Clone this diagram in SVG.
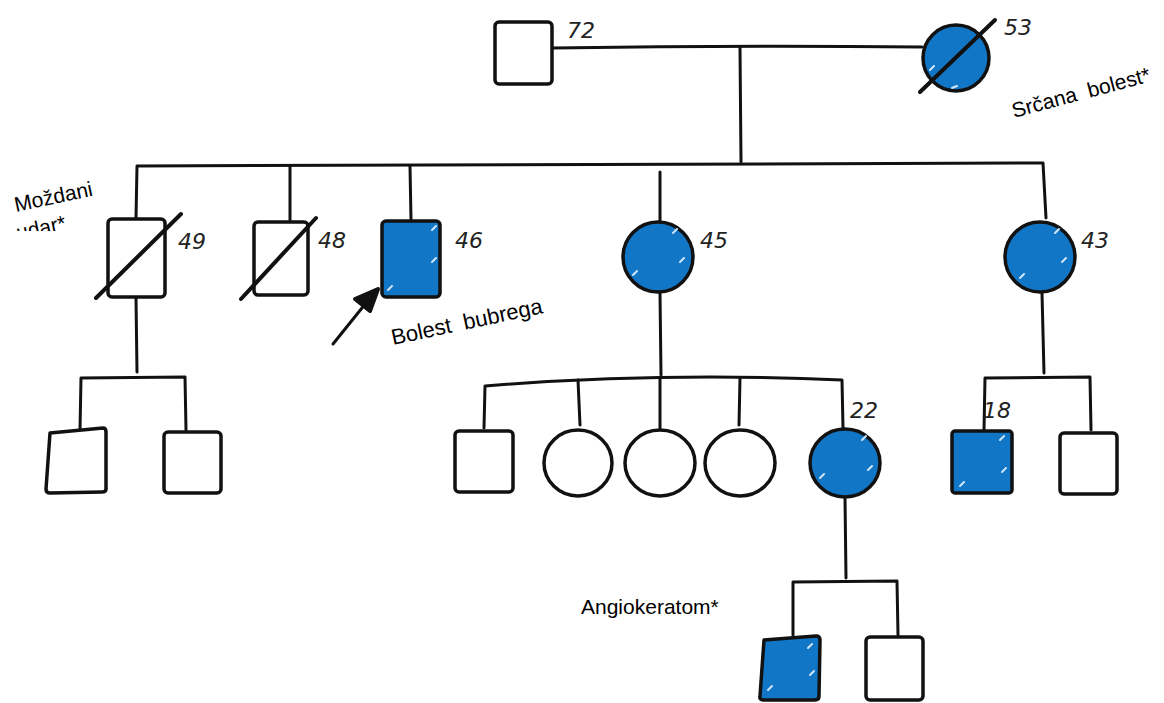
<svg xmlns="http://www.w3.org/2000/svg" width="1164" height="703" viewBox="0 0 1164 703">
<style>
.ln{fill:none;stroke:#111;stroke-width:3;stroke-linecap:round;stroke-linejoin:round}
.sh{fill:#fff;stroke:#111;stroke-width:3.5;stroke-linejoin:round}
.af{fill:#1276c6;stroke:#111;stroke-width:3.5;stroke-linejoin:round}
.dec{stroke:#111;stroke-width:4;stroke-linecap:round}
.age{font-family:"DejaVu Sans",sans-serif;font-style:italic;font-size:22px;fill:#222}
.lbl{font-family:"Liberation Sans",Arial,sans-serif;font-size:21px;fill:#000;white-space:pre}
.tick{stroke:#cfe6fa;stroke-width:2;stroke-linecap:round}
</style>
<defs>
<clipPath id="clipM"><rect x="0" y="150" width="200" height="81"/></clipPath>
</defs>
<g id="connectors">
<path class="ln" d="M553 48 Q740 45 922 47"/>
<path class="ln" d="M740 48 L741 162"/>
<path class="ln" d="M136 218 L137 166 L1043 163 L1046 218"/>
<path class="ln" d="M290 166 L290 220"/>
<path class="ln" d="M410 166 L411 220"/>
<path class="ln" d="M660 172 L660 222"/>
<path class="ln" d="M136 298 L137 372"/>
<path class="ln" d="M80 430 L81 378 L185 377 L186 430"/>
<path class="ln" d="M660 293 L661 375"/>
<path class="ln" d="M484 428 L485 386 Q660 372 842 380 L843 428"/>
<path class="ln" d="M578 380 L580 425"/>
<path class="ln" d="M660 378 L660 428"/>
<path class="ln" d="M740 378 L739 425"/>
<path class="ln" d="M1042 293 L1044 373"/>
<path class="ln" d="M984 430 L985 378 L1090 377 L1091 430"/>
<path class="ln" d="M845 497 L846 578"/>
<path class="ln" d="M793 635 L793 582 L897 581 L898 635"/>
<path d="M333 344 L366 303" class="ln" stroke-width="4.5"/>
<polygon points="378,289 355,299 370,311" fill="#111" stroke="#111" stroke-width="4" stroke-linejoin="round"/>
</g>
<g id="n72">
<rect class="sh" x="495" y="22" width="57" height="62" rx="4"/>
<text class="age" x="567" y="38">72</text>
</g>
<g id="n53">
<circle class="af" cx="956" cy="58" r="33"/>
<line class="tick" x1="930" y1="70" x2="934" y2="66"/><line class="tick" x1="975" y1="40" x2="979" y2="36"/><line class="tick" x1="952" y1="88" x2="957" y2="86"/>
<line class="dec" x1="920" y1="92" x2="995" y2="20"/>
<text class="age" x="1004" y="35">53</text>
<text class="lbl" transform="translate(1014 118) rotate(-15)">Srčana  bolest*</text>
</g>
<g id="n49">
<rect class="sh" x="108" y="219" width="57" height="78" rx="4"/>
<line class="dec" x1="96" y1="298" x2="181" y2="214"/>
<text class="age" x="178" y="249">49</text>
<g clip-path="url(#clipM)"><text class="lbl" transform="translate(16 212) rotate(-12)">Moždani</text><text class="lbl" transform="translate(18 240) rotate(-12)">udar*</text></g>
</g>
<g id="n48">
<rect class="sh" x="254" y="222" width="54" height="73" rx="4"/>
<line class="dec" x1="241" y1="299" x2="316" y2="218"/>
<text class="age" x="318" y="248">48</text>
</g>
<g id="n46">
<rect class="af" x="382" y="221" width="58" height="76" rx="4"/>
<line class="tick" x1="388" y1="290" x2="392" y2="286"/><line class="tick" x1="432" y1="230" x2="436" y2="226"/><line class="tick" x1="432" y1="262" x2="436" y2="258"/>
<text class="age" x="455" y="248">46</text>
<text class="lbl" style="font-size:22px" transform="translate(393 345) rotate(-12)">Bolest  bubrega</text>
</g>
<g id="n45">
<circle class="af" cx="658" cy="257" r="35"/>
<line class="tick" x1="673" y1="233" x2="677" y2="229"/><line class="tick" x1="680" y1="262" x2="684" y2="258"/><line class="tick" x1="633" y1="275" x2="637" y2="271"/>
<text class="age" x="700" y="248">45</text>
</g>
<g id="n43">
<circle class="af" cx="1040" cy="257" r="35"/>
<line class="tick" x1="1055" y1="233" x2="1059" y2="229"/><line class="tick" x1="1062" y1="262" x2="1066" y2="258"/><line class="tick" x1="1020" y1="278" x2="1024" y2="274"/>
<text class="age" x="1081" y="248">43</text>
</g>
<g id="c1">
<path class="sh" d="M50 433 L103 428 Q106 428 106 432 L106 489 Q106 492 102 492 L50 493 Q46 493 46 489 Z"/>
</g>
<g id="c2">
<rect class="sh" x="164" y="432" width="57" height="61" rx="4"/>
</g>
<g id="c3">
<rect class="sh" x="455" y="431" width="58" height="61" rx="4"/>
</g>
<g id="c4"><ellipse class="sh" cx="578" cy="463" rx="34" ry="33"/></g>
<g id="c5"><ellipse class="sh" cx="660" cy="463" rx="35" ry="33"/></g>
<g id="c6"><ellipse class="sh" cx="740" cy="463" rx="35" ry="33"/></g>
<g id="c7">
<ellipse class="af" cx="845" cy="463" rx="35" ry="34"/>
<line class="tick" x1="862" y1="440" x2="866" y2="436"/><line class="tick" x1="868" y1="470" x2="872" y2="466"/><line class="tick" x1="820" y1="478" x2="824" y2="474"/>
<text class="age" x="850" y="418">22</text>
</g>
<g id="c8">
<rect class="af" x="952" y="431" width="60" height="62" rx="3"/>
<line class="tick" x1="1000" y1="440" x2="1004" y2="436"/><line class="tick" x1="1002" y1="472" x2="1006" y2="468"/><line class="tick" x1="960" y1="486" x2="964" y2="482"/>
<text class="age" x="983" y="418">18</text>
</g>
<g id="c9">
<rect class="sh" x="1060" y="433" width="57" height="61" rx="4"/>
</g>
<g id="g1">
<path class="af" d="M764 640 L816 636 Q820 636 820 640 L819 696 Q819 700 815 700 L764 700 Q759 700 760 696 Z"/>
<line class="tick" x1="808" y1="648" x2="812" y2="644"/><line class="tick" x1="810" y1="675" x2="814" y2="671"/><line class="tick" x1="768" y1="690" x2="772" y2="686"/>
</g>
<g id="g2">
<rect class="sh" x="866" y="637" width="57" height="63" rx="4"/>
</g>
<text class="lbl" x="581" y="614">Angiokeratom*</text>
</svg>
